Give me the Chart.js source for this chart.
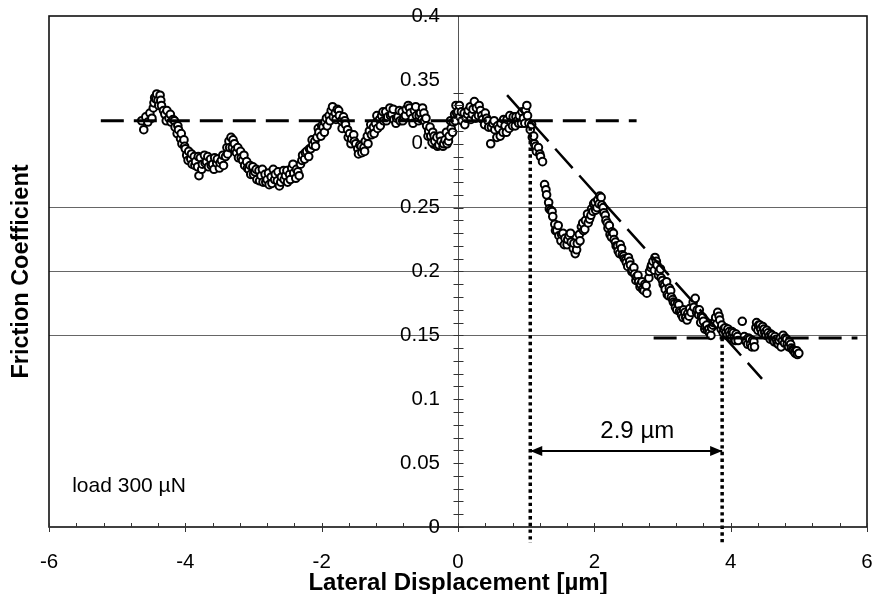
<!DOCTYPE html>
<html><head><meta charset="utf-8">
<script src="https://cdn.jsdelivr.net/npm/chart.js@4/dist/chart.umd.min.js"></script>
<style>html,body{margin:0;padding:0;background:#fff}canvas{display:block}</style>
</head><body>
<canvas id="c" width="873" height="594"></canvas>
<script>
// ---- axis ticks ----
const xTicks = [-6, -4, -2, 0, 2, 4, 6];
const yTicks = [0, 0.05, 0.1, 0.15, 0.2, 0.25, 0.3, 0.35, 0.4];
const gridValues = [0.15, 0.2, 0.25];
const xMinorStep = 0.4;
const yMinorStep = 0.01;
const yMinorMax = 0.34;
const yLabelAnchorX = -0.265;   // y tick labels sit just left of the centre axis

// ---- measured data (lateral displacement [µm], friction coefficient) ----
// main trace
const dispX = [
-4.64,-4.61,-4.58,-4.55,-4.52,-4.49,-4.47,-4.45,-4.42,-4.40,-4.37,-4.35,-4.32,-4.30,-4.27,-4.24,-4.21,-4.18,-4.15,-4.12,
-4.10,-4.07,-4.05,-4.02,-4.00,-3.98,-3.95,-3.92,-3.90,-3.87,-3.85,-3.82,-3.80,-3.78,-3.75,-3.72,-3.69,-3.66,-3.63,-3.60,
-3.57,-3.54,-3.50,-3.47,-3.44,-3.41,-3.39,-3.36,-3.33,-3.31,-3.28,-3.25,-3.22,-3.19,-3.16,-3.13,-3.10,-3.07,-3.04,-3.01,
-2.98,-2.95,-2.92,-2.89,-2.86,-2.83,-2.80,-2.77,-2.74,-2.71,-2.68,-2.65,-2.62,-2.59,-2.56,-2.53,-2.50,-2.47,-2.44,-2.41,
-2.38,-2.35,-2.31,-2.28,-2.25,-2.22,-2.19,-2.16,-2.13,-2.10,-2.07,-2.04,-2.01,-1.98,-1.95,-1.92,-1.89,-1.86,-1.83,-1.80,
-1.77,-1.74,-1.71,-1.68,-1.65,-1.62,-1.59,-1.56,-1.53,-1.50,-1.47,-1.44,-1.41,-1.38,-1.36,-1.33,-1.30,-1.27,-1.24,-1.21,
-1.18,-1.15,-1.12,-1.09,-1.06,-1.03,-1.00,-0.97,-0.94,-0.91,-0.88,-0.85,-0.82,-0.79,-0.76,-0.73,-0.70,-0.67,-0.64,-0.61,
-0.58,-0.55,-0.52,-0.49,-0.46,-0.43,-0.40,-0.37,-0.34,-0.31,-0.28,-0.25,-0.22,-0.19,-0.16,-0.13,-0.10,-0.07,-0.05,-0.03,
0.00,0.03,0.06,0.09,0.12,0.15,0.18,0.21,0.24,0.27,0.30,0.33,0.36,0.39,0.42,0.45,0.48,0.51,0.54,0.57,
0.60,0.63,0.66,0.69,0.72,0.75,0.78,0.81,0.84,0.87,0.90,0.93,0.96,0.99,1.02,1.04,1.06,1.09,1.12,1.15,
1.18,1.21,1.24,1.27,1.30,1.33,1.36,1.39,1.42,1.45,1.48,1.51,1.54,1.57,1.60,1.63,1.66,1.69,1.72,1.75,
1.78,1.81,1.84,1.87,1.90,1.93,1.96,1.99,2.02,2.05,2.08,2.11,2.14,2.17,2.20,2.23,2.26,2.29,2.32,2.35,
2.38,2.41,2.44,2.47,2.50,2.53,2.56,2.59,2.62,2.65,2.68,2.71,2.74,2.77,2.80,2.83,2.86,2.89,2.92,2.95,
2.98,3.01,3.04,3.07,3.10,3.13,3.16,3.19,3.22,3.25,3.28,3.31,3.34,3.37,3.40,3.45,3.48,3.51,3.54,3.57,
3.60,3.63,3.66,3.69,3.72,3.75,3.78,3.81,3.84,3.87,3.90,3.93,3.96,3.99,4.02,4.05,4.08,4.11,4.17,4.20,
4.23,4.26,4.29,4.32,4.35,4.38,4.41,4.44,4.47,4.50,4.53,4.56,4.59,4.62,4.65,4.68,4.71,4.74,4.77,4.80,
4.83,4.86,4.89,4.92,4.95,4.98
];
const frictionY = [
0.318,0.311,0.321,0.317,0.324,0.320,0.328,0.336,0.339,0.334,0.338,0.330,0.326,0.323,0.326,0.320,0.317,0.319,0.313,0.308,
0.311,0.304,0.300,0.303,0.296,0.291,0.294,0.288,0.284,0.290,0.286,0.282,0.275,0.289,0.284,0.291,0.286,0.282,0.288,0.284,
0.289,0.285,0.281,0.287,0.283,0.290,0.297,0.302,0.305,0.297,0.300,0.293,0.289,0.294,0.287,0.283,0.286,0.280,0.276,0.282,
0.278,0.272,0.279,0.275,0.270,0.276,0.272,0.268,0.274,0.280,0.276,0.271,0.267,0.274,0.279,0.275,0.270,0.276,0.281,0.277,
0.273,0.278,0.284,0.291,0.288,0.294,0.290,0.296,0.299,0.302,0.305,0.309,0.306,0.313,0.317,0.314,0.322,0.326,0.321,0.324,
0.327,0.322,0.318,0.321,0.315,0.311,0.308,0.304,0.307,0.300,0.296,0.299,0.293,0.297,0.302,0.306,0.310,0.307,0.313,0.316,
0.312,0.319,0.322,0.318,0.325,0.321,0.328,0.323,0.319,0.316,0.321,0.318,0.325,0.321,0.327,0.330,0.324,0.320,0.326,0.322,
0.318,0.324,0.328,0.318,0.314,0.310,0.306,0.309,0.302,0.305,0.299,0.302,0.298,0.303,0.300,0.306,0.312,0.317,0.323,0.330,
0.325,0.321,0.318,0.324,0.320,0.326,0.329,0.323,0.333,0.328,0.322,0.326,0.319,0.315,0.320,0.313,0.300,0.316,0.311,0.305,
0.312,0.316,0.309,0.314,0.319,0.312,0.317,0.321,0.314,0.318,0.322,0.316,0.320,0.326,0.322,0.316,0.311,0.305,0.300,0.294,
0.297,0.290,0.286,0.268,0.260,0.254,0.248,0.243,0.237,0.232,0.228,0.224,0.230,0.226,0.221,0.228,0.223,0.218,0.214,0.222,
0.229,0.235,0.232,0.240,0.245,0.241,0.249,0.253,0.248,0.256,0.259,0.252,0.246,0.240,0.234,0.229,0.231,0.225,0.220,0.216,
0.221,0.213,0.210,0.207,0.211,0.205,0.201,0.198,0.196,0.192,0.190,0.186,0.190,0.183,0.195,0.203,0.208,0.211,0.205,0.200,
0.195,0.190,0.186,0.182,0.187,0.180,0.176,0.172,0.175,0.169,0.166,0.170,0.164,0.167,0.171,0.176,0.179,0.170,0.170,0.165,
0.161,0.157,0.154,0.152,0.156,0.160,0.164,0.168,0.162,0.158,0.155,0.152,0.155,0.150,0.153,0.148,0.151,0.146,0.161,0.149,
0.145,0.148,0.143,0.146,0.141,0.160,0.158,0.155,0.157,0.152,0.154,0.149,0.151,0.147,0.149,0.144,0.146,0.141,0.150,0.148,
0.143,0.145,0.140,0.138,0.136,0.135
];
// further overlapping readings that make up the dense band
const dispXB = [
-4.46,-4.43,-4.39,-4.36,-4.28,-4.22,-4.16,-4.11,-4.06,-4.01,
-3.96,-3.91,-3.86,-3.81,-3.76,-3.71,-3.67,-3.62,-3.58,-3.53,-3.49,-3.45,
-3.38,-3.35,-3.30,-3.27,-3.23,-3.18,-3.14,-3.09,
-3.05,-3.00,-2.96,-2.91,-2.87,-2.82,-2.78,-2.73,-2.69,-2.64,-2.60,-2.55,-2.51,-2.46,-2.42,-2.37,-2.33,-2.29,
-2.24,-2.18,-2.14,-2.09,-2.05,-2.00,-1.96,-1.93,-1.88,-1.84,-1.79,-1.75,
-1.70,-1.66,-1.61,-1.57,-1.52,-1.46,-1.42,-1.37,
-1.32,-1.28,-1.23,-1.19,-1.14,-1.10,-1.05,-0.99,-0.95,-0.90,-0.86,-0.81,-0.77,-0.71,-0.66,-0.62,-0.57,-0.53,-0.50,
-0.47,-0.44,-0.41,-0.38,-0.35,-0.30,-0.26,-0.21,-0.17,-0.14,-0.11,-0.08,-0.04,-0.02,
0.02,0.05,0.10,0.14,0.19,0.22,0.26,0.31,0.35,0.40,0.44,0.49,0.53,0.58,0.62,0.67,0.71,0.76,0.80,0.85,0.89,0.94,0.98,1.01,
1.08,1.11,1.14,1.20,
1.29,1.34,1.38,1.43,1.47,1.52,1.56,1.61,1.65,1.70,1.74,1.79,
1.83,1.86,1.91,1.95,1.98,2.01,2.04,2.07,2.10,2.13,2.16,2.19,
2.22,2.25,2.28,2.31,2.34,2.37,2.40,2.43,2.46,2.49,2.52,2.55,2.58,2.61,2.64,2.67,2.70,2.73,2.76,
2.81,2.84,2.88,2.91,2.94,2.97,3.00,3.03,3.06,3.09,3.12,3.15,3.18,3.21,3.24,3.27,3.30,3.33,3.36,3.39,3.42,3.46,3.50,
3.53,3.56,3.59,3.62,3.65,3.68,3.71,3.74,3.77,3.80,3.83,3.86,3.89,3.92,3.95,3.98,4.01,4.04,4.07,4.10,
4.22,4.25,4.28,4.31,4.34,4.37,4.40,4.43,4.46,4.49,4.52,4.55,4.58,4.61,4.64,4.67,4.70,4.73,4.76,4.79,4.82,4.85,4.88,4.91,4.94,4.97,5.00
];
const frictionYB = [
0.332,0.335,0.330,0.334,0.318,0.323,0.318,0.314,0.308,0.298,
0.287,0.292,0.283,0.290,0.280,0.285,0.290,0.283,0.280,0.288,0.285,0.291,
0.292,0.297,0.303,0.295,0.297,0.289,0.291,0.281,
0.283,0.276,0.280,0.271,0.280,0.270,0.277,0.269,0.272,0.278,0.270,0.272,0.279,0.272,0.284,0.280,0.275,0.287,
0.293,0.296,0.303,0.298,0.312,0.314,0.309,0.320,0.318,0.329,0.319,0.326,
0.312,0.318,0.305,0.300,0.302,0.292,0.298,0.294,
0.300,0.315,0.308,0.322,0.314,0.325,0.318,0.322,0.327,0.320,0.326,0.318,0.322,0.328,0.316,0.329,0.322,0.319,0.324,
0.320,0.306,0.313,0.301,0.306,0.298,0.306,0.300,0.309,0.302,0.318,0.309,0.318,0.324,
0.330,0.325,0.315,0.323,0.319,0.327,0.320,0.330,0.322,0.324,0.318,0.313,0.318,0.314,0.306,0.319,0.309,0.322,0.314,0.321,0.316,0.325,0.316,0.330,
0.315,0.306,0.298,0.292,
0.264,0.249,0.247,0.232,0.236,0.229,0.221,0.225,0.230,0.222,0.217,0.224,
0.238,0.233,0.238,0.244,0.247,0.254,0.250,0.253,0.258,0.250,0.244,0.238,
0.236,0.227,0.230,0.223,0.220,0.214,0.218,0.212,0.209,0.204,0.208,0.200,0.203,0.193,0.197,0.188,0.192,0.185,0.189,
0.200,0.205,0.201,0.208,0.197,0.202,0.193,0.189,0.192,0.181,0.185,0.178,0.175,0.170,0.174,0.168,0.164,0.168,0.162,0.165,0.168,0.172,0.168,
0.166,0.160,0.164,0.155,0.158,0.155,0.150,0.158,0.161,0.159,0.165,0.155,0.152,0.156,0.150,0.153,0.148,0.152,0.146,0.149,
0.146,0.143,0.147,0.141,0.145,0.156,0.154,0.158,0.152,0.155,0.150,0.152,0.147,0.150,0.145,0.147,0.143,0.148,0.146,0.144,0.147,0.141,0.143,0.139,0.137,0.138,0.136
];

// ---- construction lines & annotations (data units) ----
const upperLevel = 0.318;
const upperLineX = [-5.24, 2.62];
const lowerLevel = 0.148;
const lowerLineX = [2.87, 5.86];
const slopeLineX = [0.72, 4.46];
const slopeLineY = [0.338, 0.116];
const onsetX = 1.06;
const endX = 3.875;
const markerBottom = -0.0125;
const arrowY = 0.0595;
const gapLabel = '2.9 µm';
const gapLabelPos = [2.63, 0.0745];
const loadLabel = 'load 300 µN';
const loadLabelPos = [-5.66, 0.032];

const FONT = '"Liberation Sans", Arial, Helvetica, sans-serif';
Chart.defaults.font.family = FONT;
Chart.defaults.color = '#000';

const points = dispX.map((x, i) => ({x: x, y: frictionY[i]}))
  .concat(dispXB.map((x, i) => ({x: x, y: frictionYB[i]})))
  .sort((a, b) => a.x - b.x);

const lineDS = (data, opts) => Object.assign({
  data: data, showLine: true, pointRadius: 0, pointHoverRadius: 0,
  borderColor: '#000', backgroundColor: '#000', clip: false, fill: false
}, opts);

const datasets = [
  lineDS([{x: upperLineX[0], y: upperLevel}, {x: upperLineX[1], y: upperLevel}], {borderWidth: 3, borderDash: [23, 10]}),
  lineDS([{x: lowerLineX[0], y: lowerLevel}, {x: lowerLineX[1], y: lowerLevel}], {borderWidth: 3, borderDash: [23, 10]}),
  lineDS([{x: slopeLineX[0], y: slopeLineY[0]}, {x: slopeLineX[1], y: slopeLineY[1]}], {borderWidth: 2.5, borderDash: [26, 10]}),
  lineDS([{x: onsetX, y: upperLevel}, {x: onsetX, y: markerBottom}], {borderWidth: 3.5, borderDash: [3.4, 3.3]}),
  lineDS([{x: endX, y: lowerLevel}, {x: endX, y: markerBottom}], {borderWidth: 3.5, borderDash: [3.4, 3.3]}),
  lineDS([{x: onsetX, y: arrowY}, {x: endX, y: arrowY}], {borderWidth: 2}),
  {
    data: points, showLine: false, pointRadius: 3.8, pointHoverRadius: 3.8,
    pointBackgroundColor: '#fff', pointBorderColor: '#000', pointBorderWidth: 2,
    backgroundColor: '#fff', borderColor: '#000'
  }
];
const ARROW_INDEX = 5;

const decor = {
  id: 'decor',
  afterDraw(chart) {
    const {ctx, chartArea: a, scales: {x, y}} = chart;
    ctx.save();
    // frame
    ctx.strokeStyle = '#111';
    ctx.lineWidth = 1.6;
    ctx.strokeRect(a.left, a.top, a.right - a.left, a.bottom - a.top);
    // x ticks
    ctx.lineWidth = 1;
    ctx.strokeStyle = '#333';
    for (let v = xTicks[0]; v <= xTicks[xTicks.length - 1] + 1e-9; v += xMinorStep) {
      const px = Math.round(x.getPixelForValue(v)) + 0.5;
      ctx.beginPath(); ctx.moveTo(px, a.bottom); ctx.lineTo(px, a.bottom - 4); ctx.stroke();
    }
    xTicks.forEach(v => {
      const px = Math.round(x.getPixelForValue(v)) + 0.5;
      ctx.beginPath(); ctx.moveTo(px, a.bottom - 4); ctx.lineTo(px, a.bottom + 5); ctx.stroke();
    });
    // y ticks on the centre axis
    const x0 = Math.round(x.getPixelForValue(0)) + 0.5;
    for (let v = 0; v <= yMinorMax + 1e-9; v += yMinorStep) {
      const py = Math.round(y.getPixelForValue(v)) + 0.5;
      ctx.beginPath(); ctx.moveTo(x0 - 5, py); ctx.lineTo(x0 + 5, py); ctx.stroke();
    }
    // arrow heads
    const meta = chart.getDatasetMeta(ARROW_INDEX);
    const p0 = meta.data[0], p1 = meta.data[1];
    ctx.fillStyle = '#000';
    ctx.beginPath(); ctx.moveTo(p0.x, p0.y); ctx.lineTo(p0.x + 12, p0.y - 5); ctx.lineTo(p0.x + 12, p0.y + 5); ctx.closePath(); ctx.fill();
    ctx.beginPath(); ctx.moveTo(p1.x, p1.y); ctx.lineTo(p1.x - 12, p1.y - 5); ctx.lineTo(p1.x - 12, p1.y + 5); ctx.closePath(); ctx.fill();
    // labels
    ctx.fillStyle = '#000';
    ctx.textBaseline = 'middle';
    ctx.font = '24px ' + FONT;
    ctx.textAlign = 'center';
    ctx.fillText(gapLabel, x.getPixelForValue(gapLabelPos[0]), y.getPixelForValue(gapLabelPos[1]));
    ctx.font = '21px ' + FONT;
    ctx.textAlign = 'left';
    ctx.fillText(loadLabel, x.getPixelForValue(loadLabelPos[0]), y.getPixelForValue(loadLabelPos[1]));
    ctx.restore();
  }
};

const noPad = s => { s.paddingTop = 0; s.paddingBottom = 0; s.paddingLeft = 0; s.paddingRight = 0; };
const setYTicks = s => { s.ticks = yTicks.map(v => ({value: v})); };

new Chart(document.getElementById('c'), {
  type: 'scatter',
  data: {datasets: datasets},
  options: {
    responsive: false,
    animation: false,
    events: [],
    layout: {padding: {top: 16, right: 6, bottom: 0, left: 0}},
    plugins: {legend: {display: false}, tooltip: {enabled: false}},
    scales: {
      x: {
        type: 'linear', position: 'bottom', min: -6, max: 6,
        afterBuildTicks: s => { s.ticks = xTicks.map(v => ({value: v})); },
        afterFit: s => { s.height = 67; noPad(s); },
        grid: {display: false, drawTicks: false},
        border: {display: false},
        ticks: {font: {size: 20.5}, color: '#000', padding: 23, maxRotation: 0, callback: v => String(v)},
        title: {display: true, text: 'Lateral Displacement [µm]', font: {size: 24, weight: 'bold'}, color: '#000', padding: {top: 0, bottom: -4}}
      },
      y: {
        type: 'linear', position: {x: 0}, min: 0, max: 0.4,
        afterBuildTicks: setYTicks,
        afterFit: noPad,
        grid: {
          drawTicks: false, lineWidth: 1,
          color: c => gridValues.some(g => Math.abs(g - c.tick.value) < 1e-9) ? '#666' : 'rgba(0,0,0,0)'
        },
        border: {display: true, color: '#555', width: 1},
        ticks: {display: false}
      },
      yLabels: {
        type: 'linear', axis: 'y', position: {x: yLabelAnchorX}, min: 0, max: 0.4,
        afterBuildTicks: setYTicks,
        afterFit: noPad,
        grid: {display: false, drawTicks: false},
        border: {display: false},
        ticks: {font: {size: 20.5}, color: '#000', callback: v => String(v)}
      },
      yTitle: {
        type: 'linear', axis: 'y', position: 'left', min: 0, max: 0.4,
        afterFit: s => { s.width = 49; noPad(s); },
        grid: {display: false, drawTicks: false},
        border: {display: false},
        ticks: {display: false},
        title: {display: true, text: 'Friction Coefficient', font: {size: 23.5, weight: 'bold'}, color: '#000', padding: {top: 7, bottom: 0}}
      }
    }
  },
  plugins: [decor]
});
</script>
</body></html>
